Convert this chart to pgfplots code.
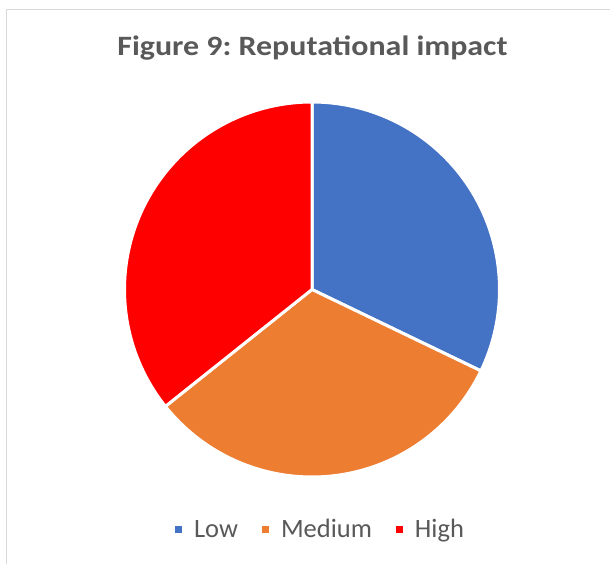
\documentclass[border=0pt]{standalone}
\usepackage{pgfplots}
\pgfplotsset{compat=1.18}
\usepackage{pgfplotstable}
\usepackage{fontspec}
\setmainfont{Carlito}
\newfontfamily\titlefont{Carlito}[FakeStretch=1.14]
\frenchspacing

\definecolor{cLow}{HTML}{4472C4}
\definecolor{cMed}{HTML}{ED7D31}
\definecolor{cHigh}{HTML}{FF0000}
\definecolor{txtgray}{HTML}{595959}
\definecolor{framegray}{HTML}{D9D9D9}

% share of each answer
\pgfplotstableread{
label value
Low 9
Medium 9
High 10
}\piedata
\pgfplotstablegetelem{0}{value}\of\piedata \let\vLow\pgfplotsretval
\pgfplotstablegetelem{1}{value}\of\piedata \let\vMed\pgfplotsretval
\pgfplotstablegetelem{2}{value}\of\piedata \let\vHigh\pgfplotsretval
\pgfmathsetmacro\total{\vLow+\vMed+\vHigh}
% slices run clockwise from 12 o'clock
\pgfmathsetmacro\aA{90}
\pgfmathsetmacro\aB{\aA-360*\vLow/\total}
\pgfmathsetmacro\aC{\aB-360*\vMed/\total}
\pgfmathsetmacro\aD{\aC-360*\vHigh/\total}
\def\cx{312}\def\cy{274.5}\def\rad{187.5}

\begin{document}
\begin{tikzpicture}
\begin{axis}[
  at={(0,0)}, anchor=south west,
  x=1pt, y=1pt,
  xmin=0, xmax=610, ymin=0, ymax=564,
  scale only axis, hide axis, enlargelimits=false,
  legend columns=3,
  legend image code/.code={\fill (0pt,-5pt) rectangle (10pt,5pt);},
  legend style={at={(318/610,34.5/564)}, anchor=center, draw=none, fill=none,
    inner sep=0pt, font=\fontsize{26.5}{31}\selectfont, text=txtgray,
    nodes={inner sep=0pt},
    /tikz/every odd column/.append style={column sep=9pt},
    /tikz/every even column/.append style={column sep=21pt}},
]
\draw[framegray, line width=1.3pt] (axis cs:6.7,0) -- (axis cs:6.7,554.3) -- (axis cs:610,554.3);
\node[anchor=base, text=txtgray, font=\titlefont\bfseries\fontsize{28}{33}\selectfont]
  at (axis cs:312.5,508) {Figure 9: Reputational impact};
\addplot[fill=cLow, draw=white, line width=3pt, line join=round, domain=\aB:\aA, samples=90]
  ({\cx+\rad*cos(x)}, {\cy+\rad*sin(x)}) -- (axis cs:\cx,\cy) -- cycle;
\addlegendentry{Low}
\addplot[fill=cMed, draw=white, line width=3pt, line join=round, domain=\aC:\aB, samples=90]
  ({\cx+\rad*cos(x)}, {\cy+\rad*sin(x)}) -- (axis cs:\cx,\cy) -- cycle;
\addlegendentry{Medium}
\addplot[fill=cHigh, draw=white, line width=3pt, line join=round, domain=\aD:\aC, samples=90]
  ({\cx+\rad*cos(x)}, {\cy+\rad*sin(x)}) -- (axis cs:\cx,\cy) -- cycle;
\addlegendentry{High}
\end{axis}
\pgfresetboundingbox
\useasboundingbox (0,0) rectangle (610pt,564pt);
\end{tikzpicture}
\end{document}
